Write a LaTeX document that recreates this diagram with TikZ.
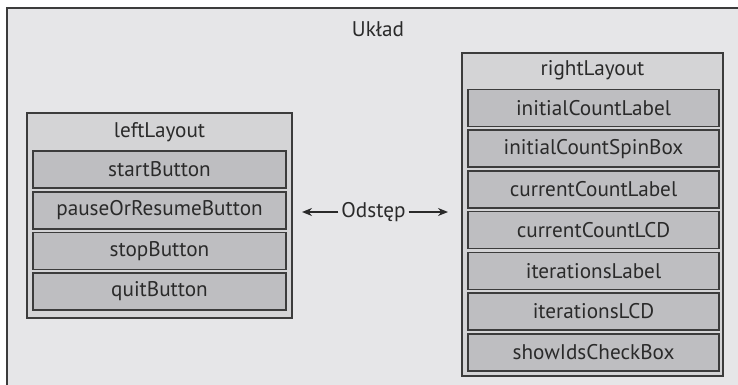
\documentclass[tikz,border=0pt]{standalone}
\usepackage{fontspec}
\setmainfont{PT Sans}
\usetikzlibrary{arrows.meta}
\definecolor{bgc}{HTML}{E6E6E8}
\definecolor{layc}{HTML}{D4D4D6}
\definecolor{itemc}{HTML}{BEBEC1}
\definecolor{linec}{HTML}{3C3C3C}
\definecolor{txtc}{HTML}{2A2A2A}
\tikzset{
  layoutbox/.style={draw=linec, line width=1.3pt, fill=layc, inner sep=0pt},
  itembox/.style={draw=linec, line width=1.6pt, fill=itemc, inner sep=0pt,
    minimum height=37pt, text=txtc, font=\fontsize{21.2}{23}\selectfont},
  lbl/.style={text=txtc, font=\fontsize{21.2}{23}\selectfont, inner sep=1pt},
  gap/.style={draw=txtc, line width=1.4pt, -{Stealth[length=10pt,width=8pt]}}
}
\begin{document}
\begin{tikzpicture}[x=1pt,y=-1pt]
\useasboundingbox (0,0) rectangle (738,385);
\fill[white] (0,0) rectangle (738,385);
\draw[draw=linec, line width=2pt, fill=bgc] (7,8) rectangle (760,400);
\node[lbl] (uklad) at (378,29) {Układ};
% left layout
\node[layoutbox, minimum width=265pt, minimum height=205pt] (left) at (159.5,215.5) {};
\node[lbl] (lefttitle) at (159.5,132) {leftLayout};
\node[itembox, minimum width=253pt] (start) at (159.5,169.5) {startButton};
\node[itembox, minimum width=253pt] (pause) at (159.5,210.2) {pauseOrResumeButton};
\node[itembox, minimum width=253pt] (stop) at (159.5,250.9) {stopButton};
\node[itembox, minimum width=253pt] (quit) at (159.5,291.6) {quitButton};
% right layout
\node[layoutbox, minimum width=261pt, minimum height=323pt] (right) at (592.5,214.5) {};
\node[lbl] (righttitle) at (592.5,70) {rightLayout};
\node[itembox, minimum width=251pt] (r1) at (593.5,108) {initialCountLabel};
\node[itembox, minimum width=251pt] (r2) at (593.5,148.7) {initialCountSpinBox};
\node[itembox, minimum width=251pt] (r3) at (593.5,189.4) {currentCountLabel};
\node[itembox, minimum width=251pt] (r4) at (593.5,230.1) {currentCountLCD};
\node[itembox, minimum width=251pt] (r5) at (593.5,270.8) {iterationsLabel};
\node[itembox, minimum width=251pt] (r6) at (593.5,311.5) {iterationsLCD};
\node[itembox, minimum width=251pt] (r7) at (593.5,352.2) {showIdsCheckBox};
% gap
\node[lbl, inner sep=3pt] (odstep) at (373.5,212) {Odstęp};
\coordinate (gapl) at (302,212);
\coordinate (gapr) at (448,212);
\draw[gap] (odstep.west) -- (gapl);
\draw[gap] (odstep.east) -- (gapr);
\end{tikzpicture}
\end{document}
